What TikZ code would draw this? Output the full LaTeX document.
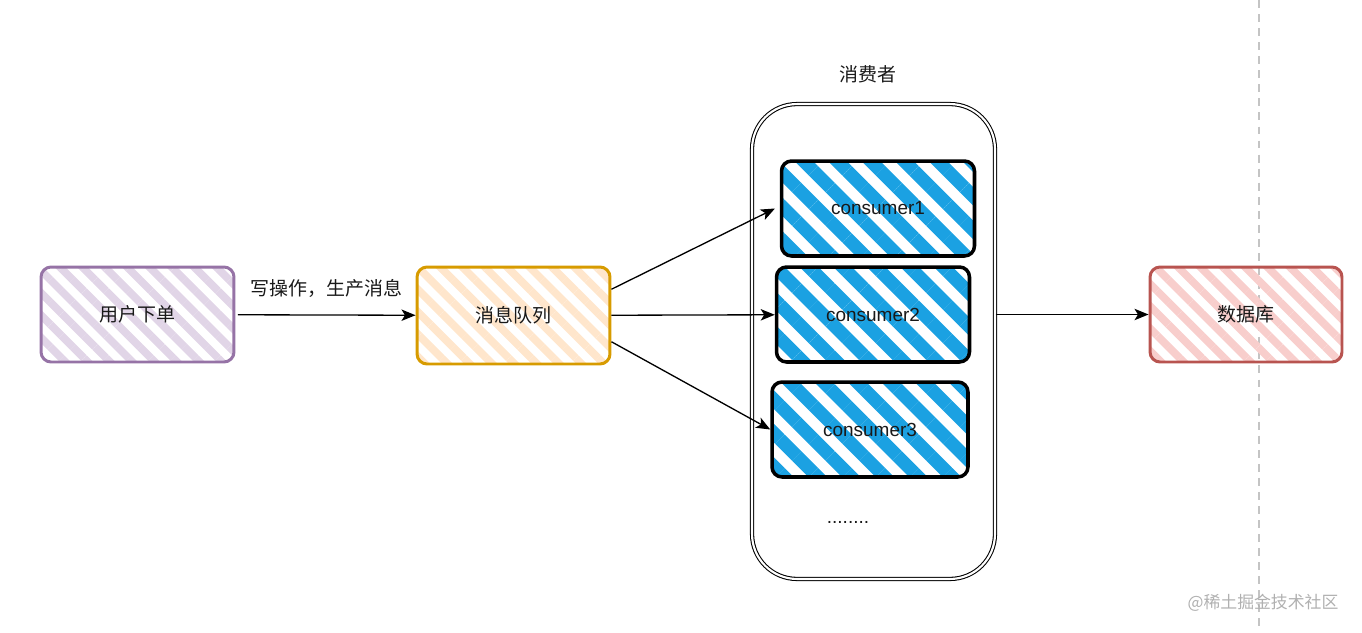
\documentclass[tikz,border=0pt]{standalone}
\usepackage{fontspec}
\setmainfont{Liberation Sans}
\newfontfamily\cjk{Noto Sans CJK SC}
\usetikzlibrary{arrows.meta,patterns.meta}

\definecolor{purpleline}{HTML}{9673A6}
\definecolor{purplefill}{HTML}{E1D5E7}
\definecolor{orangeline}{HTML}{D79B00}
\definecolor{orangefill}{HTML}{FFE6CC}
\definecolor{redline}{HTML}{B85450}
\definecolor{redfill}{HTML}{F8CECC}
\definecolor{bluefill}{HTML}{1BA1E2}
\definecolor{guide}{HTML}{C4C4C4}
\definecolor{mark}{HTML}{B0B0B0}

\begin{document}
\begin{tikzpicture}[x=0.02cm, y=-0.02cm,
  txt/.style={font=\cjk\fontsize{10.8}{13}\selectfont, text=black!90},
  box/.style={txt, rounded corners=0.2cm, minimum width=3.86cm, minimum height=1.9cm,
    line width=1.7pt, inner sep=0pt},
  soft/.style={pattern={Lines[angle=-45,distance=9pt,line width=4.4pt]}},
  consumer/.style={box, draw=black, line width=2pt, font=\fontsize{10.8}{13}\selectfont,
    pattern={Lines[angle=-45,distance=13.5pt,line width=7.5pt]}, pattern color=bluefill},
  arrow/.style={line width=0.75pt, -{Stealth[length=8pt,width=6.5pt,inset=2pt]}}]

\useasboundingbox (0,0) rectangle (1362,632);

% dashed guide line
\coordinate (gtop) at (1259,0);
\coordinate (gbot) at (1259,632);
\draw[guide, line width=0.9pt, dash pattern=on 4.5pt off 3.5pt] (gtop) -- (gbot);

% producer side
\node[box, draw=purpleline, soft, pattern color=purplefill] (user) at (137.5,314.5) {用户下单};
\node[box, draw=orangeline, soft, pattern color=orangefill, minimum height=1.94cm] (mq) at (513.5,315.5) {消息队列};

% consumers
\node[draw, double, double distance=1.2pt, line width=0.6pt, rounded corners=0.9cm,
  minimum width=4.86cm, minimum height=9.5cm] (group) at (873.5,341.5) {};
\node[txt] (grouptitle) at (868,74) {消费者};
\node[consumer] (c1) at (878,208.5) {consumer1};
\node[consumer] (c2) at (873,314.5) {consumer2};
\node[consumer, minimum width=3.92cm] (c3) at (870,429.5) {consumer3};
\node[txt, font=\fontsize{10.8}{13}\selectfont] (more) at (848,522) {........};

% storage
\node[box, draw=redline, soft, pattern color=redfill, minimum width=3.84cm] (db) at (1246,314.5) {数据库};

\draw[arrow] (user) -- node[txt, above=6pt] (write) {写操作，生产消息} (mq);
\draw[arrow] (mq.15) -- (c1.west);
\draw[arrow] (mq) -- (c2);
\draw[arrow] (mq.-15) -- (c3.west);
\draw[arrow] (group.east |- c2.east) -- (db.west);

\node[font=\cjk\fontsize{9.6}{11}\selectfont, text=mark] (wm) at (1263,603) {@稀土掘金技术社区};

\end{tikzpicture}
\end{document}
